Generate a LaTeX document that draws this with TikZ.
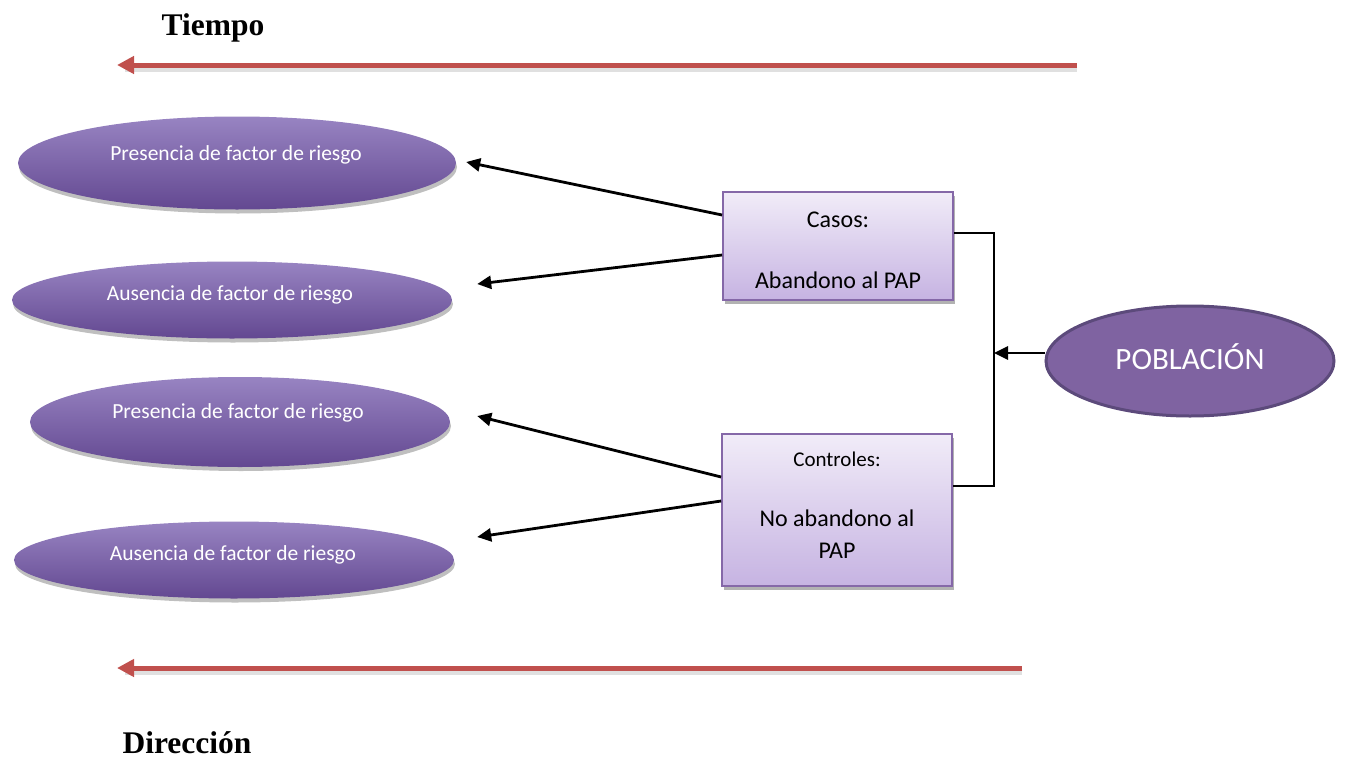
\documentclass[tikz,border=0pt]{standalone}
\usepackage{fontspec}
\setmainfont{Carlito}
\newfontfamily\titlefont{Liberation Serif}
\usetikzlibrary{arrows.meta,shapes.geometric,shadows}
\definecolor{ellTop}{HTML}{9884C2}
\definecolor{ellMid}{HTML}{7D5FA8}
\definecolor{ellBot}{HTML}{634891}
\definecolor{boxTop}{HTML}{F1ECF8}
\definecolor{boxBot}{HTML}{C6B3E2}
\definecolor{boxLine}{HTML}{8568A8}
\definecolor{pobFill}{HTML}{7F63A1}
\definecolor{pobLine}{HTML}{5C4A7B}
\definecolor{timeRed}{HTML}{C0504D}
\begin{document}
\begin{tikzpicture}[x=1pt,y=-1pt,
  riskell/.style={ellipse, inner sep=0pt, top color=ellTop, middle color=ellMid, bottom color=ellBot, draw=none,
    drop shadow={shadow xshift=1pt, shadow yshift=-4pt, opacity=0.25, fill=black}},
  risktext/.style={text=white, font=\fontsize{21.5}{26}\selectfont, inner sep=0pt},
  groupbox/.style={rectangle, inner sep=0pt, top color=boxTop, bottom color=boxBot, draw=boxLine, line width=1.8pt,
    drop shadow={shadow xshift=2pt, shadow yshift=-4pt, opacity=0.3, fill=black}},
  boxtext/.style={text=black, font=\fontsize{24}{29}\selectfont, inner sep=0pt},
  boxsmall/.style={text=black, font=\fontsize{21}{25}\selectfont, inner sep=0pt},
  conn/.style={draw=black, line width=2.8pt, -{Triangle[length=14pt,width=13pt]}},
  bracket/.style={draw=black, line width=1.7pt},
  redarrow/.style={draw=timeRed, line width=5pt, -{Triangle[length=17pt,width=17pt]}},
  redshadow/.style={draw=black, opacity=0.12, line width=6pt},
  titletext/.style={font=\titlefont\bfseries\fontsize{31.5}{37}\selectfont, inner sep=0pt, anchor=base}
]
\useasboundingbox (0,0) rectangle (1345,758);

% titles
\node[titletext] (tiempo) at (213,35) {Tiempo};
\node[titletext] (direccion) at (187,753) {Dirección};

% red time arrows
\coordinate (r1s) at (1077,65);
\coordinate (r1e) at (117,65);
\coordinate (r1ss) at (1077,69);
\coordinate (r1es) at (125,69);
\draw[redshadow] (r1ss) -- (r1es);
\draw[redarrow] (r1s) -- (r1e);
\coordinate (r2s) at (1022,668);
\coordinate (r2e) at (117,668);
\coordinate (r2ss) at (1022,672);
\coordinate (r2es) at (125,672);
\draw[redshadow] (r2ss) -- (r2es);
\draw[redarrow] (r2s) -- (r2e);

% risk ellipses
\node[riskell, minimum width=438pt, minimum height=93pt] (e1) at (237,163) {};
\node[risktext] (t1) at (236,155) {Presencia de factor de riesgo};
\node[riskell, minimum width=440pt, minimum height=77pt] (e2) at (232,300) {};
\node[risktext] (t2) at (230,295) {Ausencia de factor de riesgo};
\node[riskell, minimum width=420pt, minimum height=90pt] (e3) at (240,422) {};
\node[risktext] (t3) at (238,413) {Presencia de factor de riesgo};
\node[riskell, minimum width=440pt, minimum height=77pt] (e4) at (234,560) {};
\node[risktext] (t4) at (233,555) {Ausencia de factor de riesgo};

% group boxes
\node[groupbox, minimum width=230pt, minimum height=108pt] (casos) at (838,246) {};
\node[boxtext] (casosT) at (838,220) {Casos:};
\node[boxtext] (casosB) at (838,280) {Abandono al PAP};
\node[groupbox, minimum width=230pt, minimum height=152pt] (ctrl) at (837,510) {};
\node[boxsmall] (ctrlT) at (837,459) {Controles:};
\node[boxtext] (ctrlB) at (837,518) {No abandono al};
\node[boxtext] (ctrlC) at (837,551) {PAP};

% population
\node[ellipse, inner sep=0pt, minimum width=288pt, minimum height=110pt, fill=pobFill, draw=pobLine, line width=3pt] (pob) at (1190,361) {};
\node[text=white, font=\fontsize{31}{37}\selectfont, inner sep=0pt] (pobT) at (1190,357) {POBLACIÓN};

% connectors
\draw[conn] ([yshift=31pt]casos.west) -- ([xshift=10pt,yshift=1pt]e1.east);
\draw[conn] ([yshift=-9pt]casos.west) -- ([xshift=25pt,yshift=16pt]e2.east);
\draw[conn] ([yshift=33pt]ctrl.west) -- ([xshift=27pt,yshift=6pt]e3.east);
\draw[conn] ([yshift=9pt]ctrl.west) -- ([xshift=23pt,yshift=23pt]e4.east);

\coordinate (jn) at (994,353);
\draw[bracket] ([yshift=13pt]casos.east) -| (jn) |- ([yshift=24pt]ctrl.east);
\draw[conn] ([yshift=8pt]pob.west) -- (jn);
\end{tikzpicture}
\end{document}
